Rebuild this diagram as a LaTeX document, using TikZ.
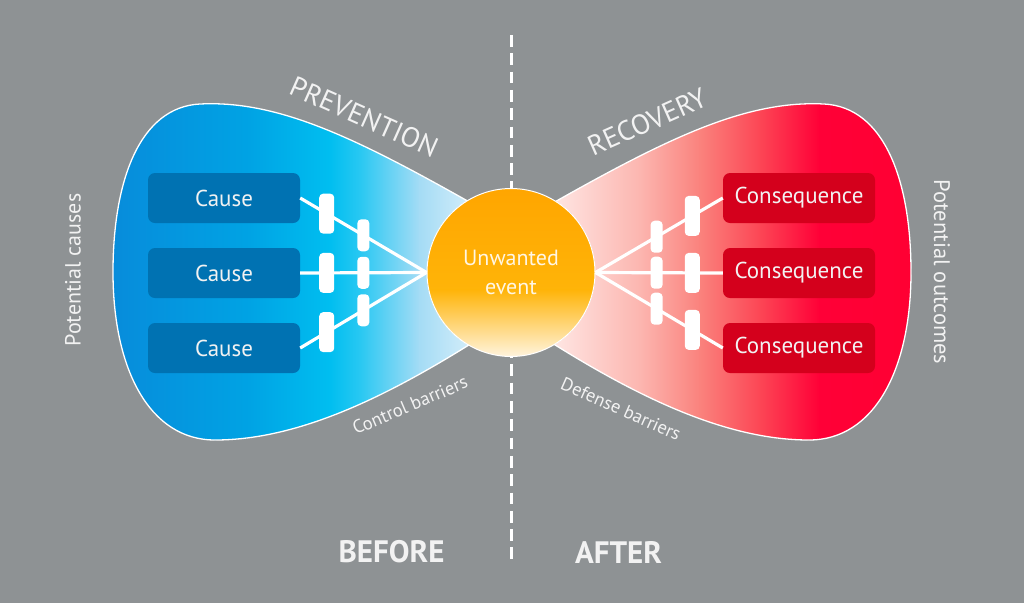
\documentclass[tikz,border=0pt]{standalone}
\usepackage{fontspec}
\setmainfont{PT Sans}
\usetikzlibrary{calc}
\definecolor{bg}{RGB}{142,146,148}
\definecolor{causeblue}{RGB}{0,114,178}
\definecolor{consred}{RGB}{212,0,28}
\definecolor{lblwhite}{RGB}{242,242,242}
\definecolor{evtext}{RGB}{255,246,228}
\definecolor{L1}{RGB}{8,138,218}
\definecolor{L2}{RGB}{0,163,228}
\definecolor{L3}{RGB}{0,190,240}
\definecolor{L4}{RGB}{40,200,242}
\definecolor{L5}{RGB}{165,220,245}
\definecolor{L6}{RGB}{228,243,251}
\definecolor{R1}{RGB}{255,240,238}
\definecolor{R2}{RGB}{252,182,176}
\definecolor{R3}{RGB}{250,130,125}
\definecolor{R4}{RGB}{252,70,85}
\definecolor{R5}{RGB}{255,0,55}
\definecolor{R6}{RGB}{255,0,50}
\definecolor{O1}{RGB}{255,165,0}
\definecolor{O2}{RGB}{255,180,8}
\definecolor{O3}{RGB}{255,247,232}
\tikzset{
  causebox/.style={rectangle, rounded corners=7pt, fill=causeblue, minimum width=152pt,
    minimum height=50pt, inner sep=0pt, text=lblwhite, font=\fontsize{23}{26}\selectfont},
  consbox/.style={causebox, fill=consred},
  conn/.style={white, line width=3.2pt},
  bigbar/.style={rectangle, fill=white, rounded corners=4pt, minimum width=15pt,
    minimum height=40pt, inner sep=0pt},
  smallbar/.style={bigbar, minimum width=12pt, minimum height=32pt},
  lbl/.style={text=lblwhite, inner sep=0pt},
  outline/.style={white, line width=1.3pt},
  evnode/.style={circle, minimum size=168pt, inner sep=0pt, draw=white, line width=1pt,
    text=evtext, align=center, font=\fontsize{22}{29}\selectfont},
  divider/.style={white, line width=3pt, dash pattern=on 11.7pt off 6.6pt}
}
\begin{document}
\begin{tikzpicture}[x=1pt,y=-1pt]
\fill[bg] (0,0) rectangle (1024,603);
\useasboundingbox (0,0) rectangle (1024,603);

% divider
\coordinate (dtop) at (511.5,35);
\coordinate (dbot) at (511.5,565);
\draw[divider] (dtop) -- (dbot);

% lobes
\def\leftlobe{(480,208) .. controls (360,140) and (280,100) .. (200,104)
  .. controls (140,107) and (113,180) .. (113,272)
  .. controls (113,370) and (150,440) .. (215,440)
  .. controls (300,440) and (390,395) .. (480,338) -- cycle}
\def\rightlobe{(544,208) .. controls (664,140) and (744,100) .. (824,104)
  .. controls (884,107) and (911,180) .. (911,272)
  .. controls (911,370) and (874,440) .. (809,440)
  .. controls (724,440) and (634,395) .. (544,338) -- cycle}
\begin{scope}
  \clip \leftlobe;
  \fill[left color=L1, right color=L2] (100,90) rectangle (250,450);
  \fill[left color=L2, right color=L3] (249.5,90) rectangle (330,450);
  \fill[left color=L3, right color=L4] (329.5,90) rectangle (360,450);
  \fill[left color=L4, right color=L5] (359.5,90) rectangle (420,450);
  \fill[left color=L5, right color=L6] (419.5,90) rectangle (490,450);
\end{scope}
\draw[outline] \leftlobe;
\begin{scope}
  \clip \rightlobe;
  \fill[left color=R1, right color=R2] (535,90) rectangle (640,450);
  \fill[left color=R2, right color=R3] (639.5,90) rectangle (700,450);
  \fill[left color=R3, right color=R4] (699.5,90) rectangle (760,450);
  \fill[left color=R4, right color=R5] (759.5,90) rectangle (820,450);
  \fill[left color=R5, right color=R6] (819.5,90) rectangle (925,450);
\end{scope}
\draw[outline] \rightlobe;

% unwanted event circle
\coordinate (evc) at (511,272.5);
\begin{scope}
  \clip (evc) circle[radius=84];
  \fill[top color=O1, bottom color=O2] (420,185) rectangle (600,290);
  \fill[top color=O2, bottom color=O3] (420,289.5) rectangle (600,360);
\end{scope}
\node[evnode] (ev) at (evc) {Unwanted\\event};

% boxes
\node[causebox] (c1) at (224,198) {Cause};
\node[causebox] (c2) at (224,273) {Cause};
\node[causebox] (c3) at (224,348) {Cause};
\node[consbox] (k1) at (799,198) {Consequence};
\node[consbox] (k2) at (799,273) {Consequence};
\node[consbox] (k3) at (799,348) {Consequence};

% connectors
\foreach \b in {c1,c2,c3} \draw[conn] (\b.east) -- (ev.west);
\foreach \b in {k1,k2,k3} \draw[conn] (ev.east) -- (\b.west);

% barriers
\foreach \b in {c1,c2,c3} {
  \node[bigbar] (\b-bar1) at ($(\b.east)!0.21!(ev.west)$) {};
  \node[smallbar] (\b-bar2) at ($(\b.east)!0.5!(ev.west)$) {};
}
\foreach \b in {k1,k2,k3} {
  \node[bigbar] (\b-bar1) at ($(\b.west)!0.24!(ev.east)$) {};
  \node[smallbar] (\b-bar2) at ($(\b.west)!0.52!(ev.east)$) {};
}

% labels
\node[lbl, rotate=-24, font=\fontsize{28}{30}\selectfont] (prev) at (364,117) {PREVENTION};
\node[lbl, rotate=24, font=\fontsize{28}{30}\selectfont] (reco) at (647,122) {RECOVERY};
\node[lbl, rotate=23, font=\fontsize{18.5}{20}\selectfont] (ctrl) at (410,405) {Control barriers};
\node[lbl, rotate=-24, font=\fontsize{18.5}{20}\selectfont] (defb) at (621,409) {Defense barriers};
\node[lbl, rotate=90, font=\fontsize{22}{24}\selectfont] (pcau) at (73,270) {Potential causes};
\node[lbl, rotate=-90, font=\fontsize{22.5}{24}\selectfont] (pout) at (942,272) {Potential outcomes};
\node[lbl, font=\fontsize{31}{34}\selectfont\bfseries] (bef) at (391.5,552) {BEFORE};
\node[lbl, font=\fontsize{31}{34}\selectfont\bfseries] (aft) at (618.5,552) {AFTER};
\end{tikzpicture}
\end{document}
